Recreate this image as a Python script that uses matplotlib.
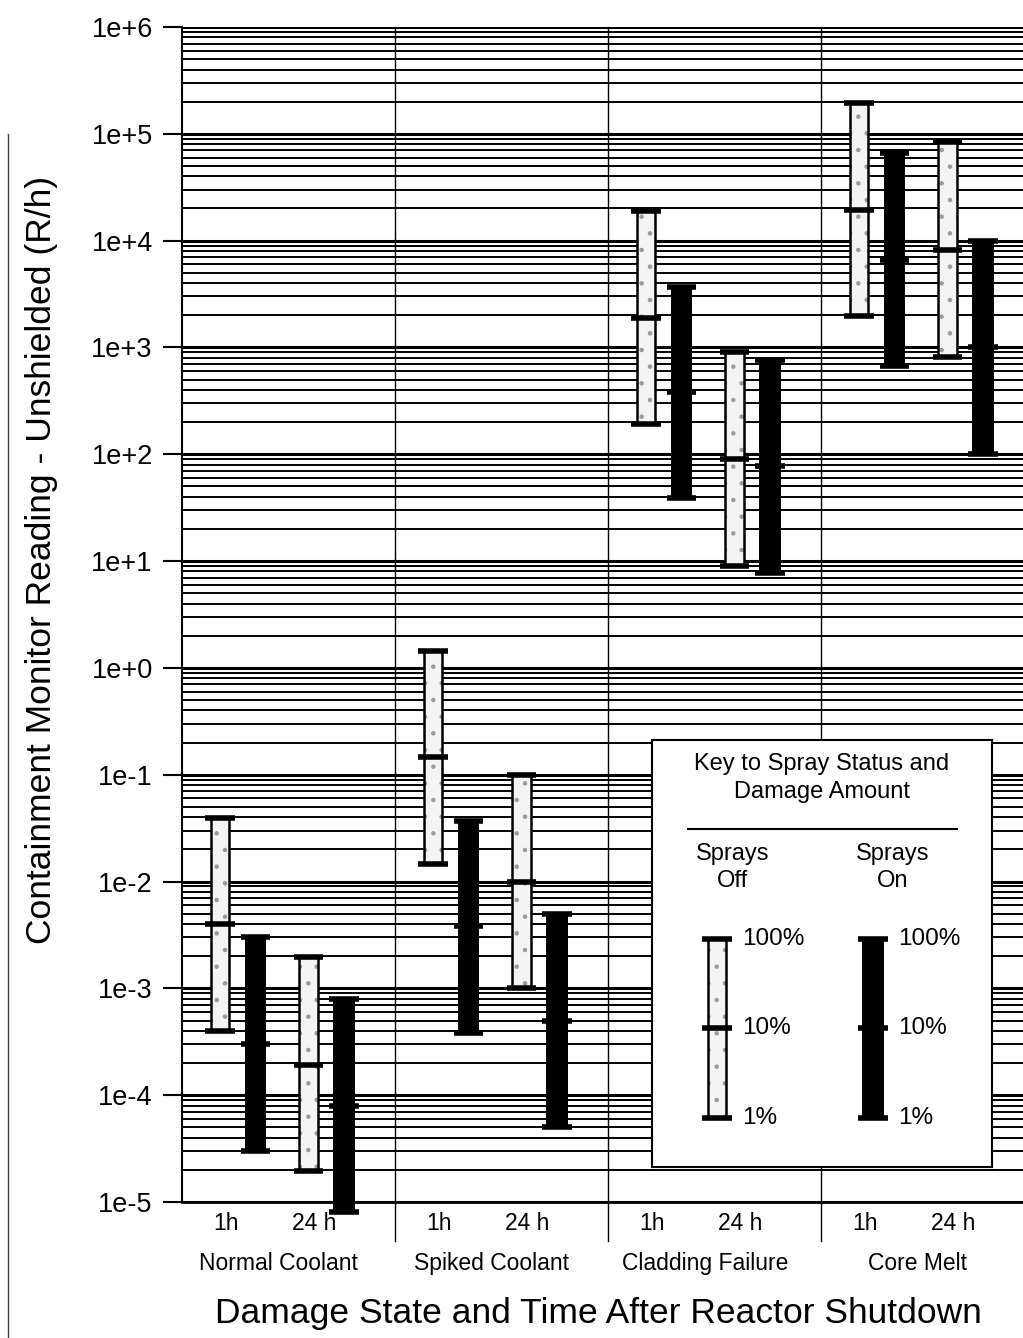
import numpy as np
import matplotlib
matplotlib.use('Agg')
import matplotlib.pyplot as plt
from matplotlib.ticker import FixedLocator, LogLocator, NullFormatter
from matplotlib.lines import Line2D

plt.rcParams['font.family'] = ['Liberation Sans', 'DejaVu Sans']
plt.rcParams['hatch.linewidth'] = 0.8

# damage states and times
groups = ['Normal Coolant', 'Spiked Coolant', 'Cladding Failure', 'Core Melt']
times = ['1h', '24 h']

# readings (R/h) per group as (100%, 10%, 1%) damage
off_1h = [(3.9e-2, 4.0e-3, 4.0e-4), (1.45, 0.146, 1.46e-2),
          (1.9e4, 1.9e3, 190), (1.95e5, 1.95e4, 1.95e3)]
on_1h = [(3.0e-3, 3.0e-4, 3.0e-5), (3.7e-2, 3.8e-3, 3.8e-4),
         (3.7e3, 380, 39), (6.6e4, 6.6e3, 670)]
off_24h = [(1.95e-3, 1.9e-4, 1.95e-5), (0.10, 1.0e-2, 1.0e-3),
           (900, 90, 9), (8.3e4, 8.2e3, 810)]
on_24h = [(8.0e-4, 8.0e-5, 8.0e-6), (5.0e-3, 5.0e-4, 5.0e-5),
          (760, 78, 7.8), (1.0e4, 1.0e3, 100)]

# legend key values (% damage)
key_vals = [100, 10, 1]
key_labels = ['100%', '10%', '1%']

decades = np.arange(-5, 7)

fig = plt.figure(figsize=(10.23, 13.38), dpi=100)
ax = fig.add_axes([182/1023, 1 - 1202/1338, (1034 - 182)/1023, 1175/1338])
ax.set_yscale('log')
ax.set_ylim(1e-5, 1e6)
ax.set_xlim(0, 4)

# horizontal grid lines
ax.yaxis.set_major_locator(FixedLocator(10.0 ** decades))
ax.yaxis.set_minor_locator(LogLocator(base=10, subs=np.arange(2, 10), numticks=50))
ax.yaxis.set_minor_formatter(NullFormatter())
ax.set_yticklabels([f'1e{d:+d}' for d in decades], fontsize=19.5)
ax.tick_params(axis='y', which='major', length=14, width=1.5, pad=7)
ax.tick_params(axis='y', which='minor', length=0)
ax.grid(which='major', axis='y', color='black', lw=2.2)
ax.grid(which='minor', axis='y', color='black', lw=1.4)
ax.set_axisbelow(True)

for s in ['top', 'right']:
    ax.spines[s].set_visible(False)
ax.spines['left'].set_linewidth(1.5)
ax.spines['bottom'].set_linewidth(2)

# group separators
for g in range(1, 4):
    ax.axvline(g, ymin=-0.033, ymax=1, color='black', lw=1, clip_on=False, zorder=2)

# x tick labels
xt, xl = [], []
for g in range(4):
    xt += [g + 0.205, g + 0.62]
    xl += times
ax.set_xticks(xt)
ax.set_xticklabels(xl, fontsize=16.5)
ax.tick_params(axis='x', length=0, pad=7)
for g, name in enumerate(groups):
    ax.text(g + 0.455, -0.052, name, transform=ax.get_xaxis_transform(),
            ha='center', va='center', fontsize=16.5)


def draw_bar(a, x, vals, dark, w_light, w_dark, cap):
    hi, mid, lo = vals
    if dark:
        a.bar(x, hi - lo, bottom=lo, width=w_dark, color='black', zorder=3, clip_on=False)
    else:
        a.bar(x, hi - lo, bottom=lo, width=w_light, facecolor='#f4f4f4',
              edgecolor='#9a9a9a', hatch='.', lw=0, zorder=3)
        a.bar(x, hi - lo, bottom=lo, width=w_light, fill=False,
              edgecolor='black', lw=1.8, zorder=3)
    a.hlines([lo, mid, hi], x - cap, x + cap, colors='black', lw=4, zorder=4, clip_on=False)


offsets = [0.178, 0.345, 0.594, 0.76]
for g in range(4):
    draw_bar(ax, g + offsets[0], off_1h[g], False, 0.088, 0.102, 0.07)
    draw_bar(ax, g + offsets[1], on_1h[g], True, 0.088, 0.102, 0.07)
    draw_bar(ax, g + offsets[2], off_24h[g], False, 0.088, 0.102, 0.07)
    draw_bar(ax, g + offsets[3], on_24h[g], True, 0.088, 0.102, 0.07)

# axis titles
fig.text(42/1023, 1 - 560/1338, 'Containment Monitor Reading - Unshielded (R/h)',
         rotation=90, ha='center', va='center', fontsize=25.5)
fig.text(598/1023, 1 - 1313/1338, 'Damage State and Time After Reactor Shutdown',
         ha='center', va='center', fontsize=25.5)

# key box
lax = fig.add_axes([652/1023, 1 - 1167/1338, 340/1023, 427/1338], zorder=5)
lax.set_xlim(0, 1)
lax.set_yscale('log')
lax.set_ylim(10 ** -0.55, 10 ** 4.22)
lax.set_xticks([])
lax.set_yticks([])
lax.minorticks_off()
for s in lax.spines.values():
    s.set_linewidth(1.5)
lax.text(0.5, 0.912, 'Key to Spray Status and\nDamage Amount', transform=lax.transAxes,
         ha='center', va='center', fontsize=17, linespacing=1.35)
lax.plot([0.106, 0.897], [0.7916, 0.7916], transform=lax.transAxes, color='black', lw=1.5)
lax.text(0.238, 0.702, 'Sprays\nOff', transform=lax.transAxes,
         ha='center', va='center', fontsize=17, linespacing=1.3)
lax.text(0.709, 0.702, 'Sprays\nOn', transform=lax.transAxes,
         ha='center', va='center', fontsize=17, linespacing=1.3)
draw_bar(lax, 0.191, key_vals, False, 0.055, 0.064, 0.044)
draw_bar(lax, 0.65, key_vals, True, 0.055, 0.064, 0.044)
for v, lab in zip(key_vals, key_labels):
    lax.text(0.265, v, lab, ha='left', va='center', fontsize=17.5)
    lax.text(0.724, v, lab, ha='left', va='center', fontsize=17.5)

# page edge
fig.add_artist(Line2D([8/1023, 8/1023], [0, 0.9], color='#444444', lw=1))

fig.savefig('out.png', dpi=100)
